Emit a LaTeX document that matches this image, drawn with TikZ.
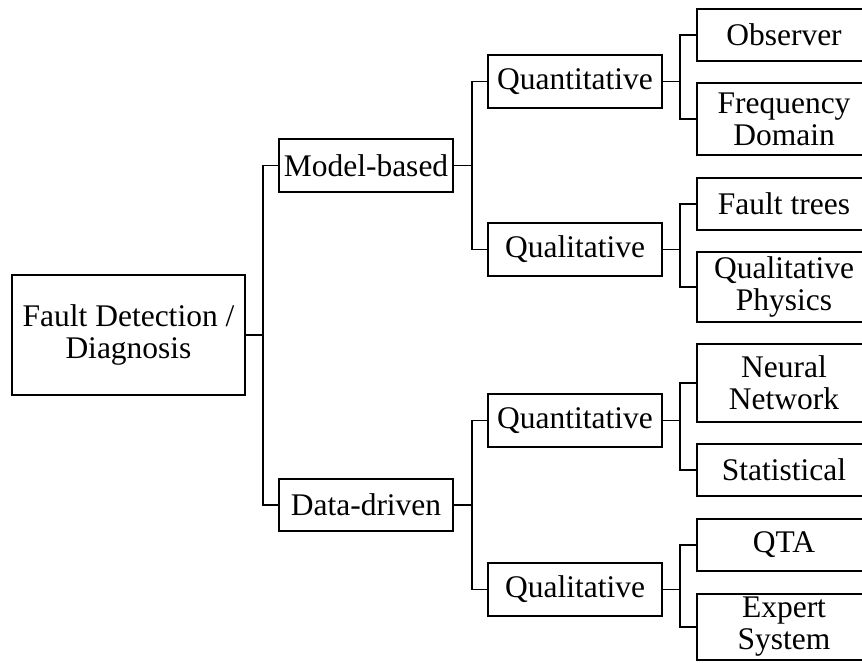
\documentclass[tikz,border=0pt]{standalone}
\usepackage{fontspec}
\setmainfont{Liberation Serif}
\begin{document}
\begin{tikzpicture}[x=1pt,y=-1pt,
  box/.style={draw,line width=1.8pt,rectangle,inner sep=0pt,align=center,
    font=\fontsize{31.5}{32}\selectfont},
  conn/.style={line width=1.8pt}]
\useasboundingbox (0,0) rectangle (862,662);
\clip (0,0) rectangle (862,662);
% root
\node[box,minimum width=233pt,minimum height=120pt] (root) at (128.5,335) {Fault Detection /\\Diagnosis};
% level 1
\node[box,minimum width=174pt,minimum height=53pt] (mb) at (366,165.5) {Model-based};
\node[box,minimum width=174pt,minimum height=52pt] (dd) at (366,505) {Data-driven};
% level 2
\node[box,minimum width=174pt,minimum height=53pt] (q1) at (575,81.5) {Quantitative};
\node[box,minimum width=174pt,minimum height=53pt] (l1) at (575,249.5) {Qualitative};
\node[box,minimum width=174pt,minimum height=53pt] (q2) at (575,420.5) {Quantitative};
\node[box,minimum width=174pt,minimum height=53pt] (l2) at (575,589.5) {Qualitative};
% leaves
\node[box,minimum width=174pt,minimum height=52pt] (obs) at (784,35) {Observer};
\node[box,minimum width=174pt,minimum height=72pt] (fd) at (784,119) {Frequency\\Domain};
\node[box,minimum width=174pt,minimum height=52pt] (ft) at (784,204) {Fault trees};
\node[box,minimum width=174pt,minimum height=70pt] (qp) at (784,287) {Qualitative\\Physics};
\node[box,minimum width=174pt,minimum height=78pt] (nn) at (784,383) {Neural\\Network};
\node[box,minimum width=174pt,minimum height=52pt] (st) at (784,470) {Statistical};
\node[box,minimum width=174pt,minimum height=52pt] (qta) at (784,545) {QTA};
\node[box,minimum width=174pt,minimum height=66pt] (es) at (784,627) {Expert\\System};
% connectors
\draw[conn] (root.east) -- ++(17,0) |- (mb.west);
\draw[conn] (root.east) -- ++(17,0) |- (dd.west);
\draw[conn] (mb.east) -- ++(18,0) |- (q1.west);
\draw[conn] (mb.east) -- ++(18,0) |- (l1.west);
\draw[conn] (dd.east) -- ++(18,0) |- (q2.west);
\draw[conn] (dd.east) -- ++(18,0) |- (l2.west);
\draw[conn] (q1.east) -- ++(17,0) |- (obs.west);
\draw[conn] (q1.east) -- ++(17,0) |- (fd.west);
\draw[conn] (l1.east) -- ++(17,0) |- (ft.west);
\draw[conn] (l1.east) -- ++(17,0) |- (qp.west);
\draw[conn] (q2.east) -- ++(17,0) |- (nn.west);
\draw[conn] (q2.east) -- ++(17,0) |- (st.west);
\draw[conn] (l2.east) -- ++(17,0) |- (qta.west);
\draw[conn] (l2.east) -- ++(17,0) |- (es.west);
\end{tikzpicture}
\end{document}
